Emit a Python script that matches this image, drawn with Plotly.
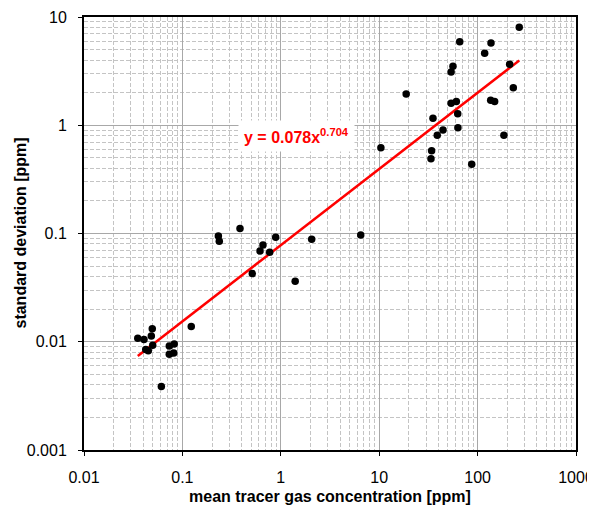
import plotly.graph_objects as go
import numpy as np

# mean tracer gas concentration [ppm]
mean_conc = [265, 65.8, 136.8, 118, 56.2, 53.8, 211.8, 230.6, 18.8, 53.8, 60.8, 135.8, 149,
             62.8, 35.2, 63.1, 44.5, 38.9, 185, 10.4, 34.1, 33.6, 87.1, 6.49,
             0.232, 0.237, 0.385, 0.887, 0.659, 0.615, 0.771, 0.513, 1.40, 2.06,
             0.123, 0.0494, 0.0483, 0.0352, 0.0407, 0.0499, 0.0424, 0.045,
             0.0736, 0.0826, 0.0736, 0.0817, 0.0611]
# standard deviation [ppm]
std_dev = [8.03, 5.9, 5.75, 4.63, 3.51, 3.1, 3.66, 2.22, 1.94, 1.6, 1.66, 1.70, 1.66,
           1.28, 1.16, 0.95, 0.904, 0.81, 0.81, 0.62, 0.582, 0.491, 0.436, 0.0968,
           0.0948, 0.0848, 0.111, 0.0923, 0.0783, 0.0689, 0.067, 0.0426, 0.0362, 0.0883,
           0.0138, 0.0132, 0.0113, 0.0108, 0.0105, 0.00927, 0.0085, 0.00826,
           0.00914, 0.00953, 0.00766, 0.00787, 0.00385]

# power-law trend y = a * x^b
trend_a = 0.078
trend_b = 0.704

x_tickvals = [0.01, 0.1, 1, 10, 100, 1000]
x_ticktext = ["0.01", "0.1", "1", "10", "100", "1000"]
y_tickvals = [0.001, 0.01, 0.1, 1, 10]
y_ticktext = ["0.001", "0.01", "0.1", "1", "10"]

x_minor = [m * 10.0 ** e for e in range(-2, 3) for m in range(2, 10)]
y_minor = [m * 10.0 ** e for e in range(-3, 1) for m in range(2, 10)]

FONT = "Liberation Sans, Arial, sans-serif"

xs = np.array(sorted(mean_conc))
trend_y = trend_a * xs ** trend_b

fig = go.Figure()
fig.add_trace(go.Scatter(x=xs, y=trend_y, mode="lines",
                         line=dict(color="#ff0000", width=2.5), hoverinfo="skip"))
fig.add_trace(go.Scatter(x=mean_conc, y=std_dev, mode="markers",
                         marker=dict(color="black", size=7.5, line=dict(width=0))))

fig.add_annotation(x=np.log10(1.43), y=np.log10(0.795), xref="x", yref="y",
                   text="<b>y = 0.078x<sup>0.704</sup></b>", showarrow=False,
                   font=dict(family=FONT, size=16, color="#ff0000"),
                   bgcolor="white", borderpad=5)

# axis titles
fig.add_annotation(x=0.5, y=0, xref="paper", yref="paper", yanchor="middle", yshift=-46,
                   text="<b>mean tracer gas concentration [ppm]</b>", showarrow=False,
                   font=dict(family=FONT, size=16, color="black"))
fig.add_annotation(x=0, y=0.5, xref="paper", yref="paper", xanchor="center", xshift=-64,
                   textangle=-90,
                   text="<b>standard deviation [ppm]</b>", showarrow=False,
                   font=dict(family=FONT, size=16, color="black"))

axis_common = dict(
    type="log", automargin=False,
    showline=True, linecolor="black", linewidth=2, mirror=True,
    ticks="outside", ticklen=4, tickcolor="black",
    showgrid=True, gridcolor="#a8a8a8", gridwidth=1,
    zeroline=False,
    tickfont=dict(family=FONT, size=16, color="black"),
)

fig.update_xaxes(**axis_common, range=[-2, 3], tickvals=x_tickvals, ticktext=x_ticktext,
                 ticklabelstandoff=8,
                 minor=dict(tickvals=x_minor, showgrid=True, gridcolor="#c4c4c4",
                            griddash="4px,2px", gridwidth=1, ticks=""))
fig.update_yaxes(**axis_common, range=[-3, 1], tickvals=y_tickvals, ticktext=y_ticktext,
                 ticklabelstandoff=8,
                 minor=dict(tickvals=y_minor, showgrid=True, gridcolor="#c4c4c4",
                            griddash="4px,2px", gridwidth=1, ticks=""))

fig.update_layout(width=595, height=508, margin=dict(l=76, r=27, t=9, b=66),
                  plot_bgcolor="white", paper_bgcolor="white", showlegend=False)

fig.write_html("out.html")
